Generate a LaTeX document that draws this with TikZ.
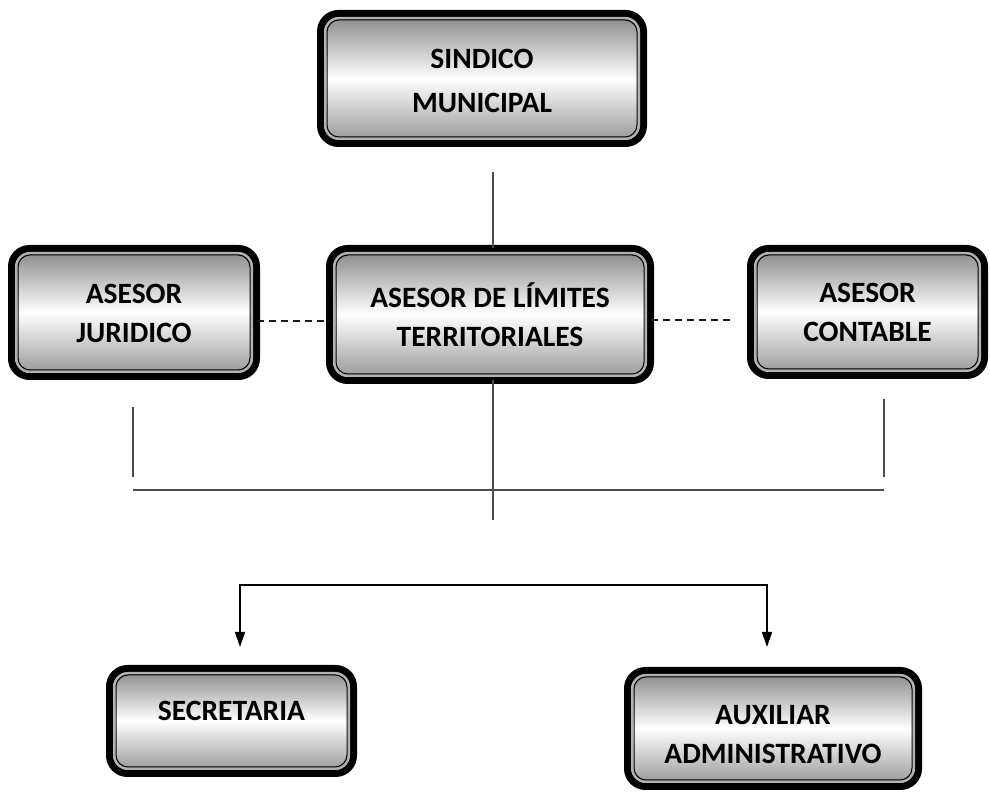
\documentclass[tikz,border=0pt]{standalone}
\usepackage{fontspec}
\setmainfont{Carlito}
\usetikzlibrary{arrows.meta,calc}
\tikzset{
  orgbox/.style={draw=black, line width=7pt, rounded corners=18pt,
    top color=black!48, bottom color=black!42, middle color=white,
    inner sep=0pt, outer sep=0pt},
  boxtext/.style={inner sep=0pt, align=center,
    font=\fontsize{29.5}{39}\selectfont\bfseries},
  framegray/.style={draw=black!30, line width=2pt, rounded corners=14pt},
  frameblack/.style={draw=black, line width=1pt, rounded corners=12pt},
  tree/.style={draw=black!70, line width=1.3pt},
  dashline/.style={draw=black!90, line width=1.6pt, dash pattern=on 7pt off 5pt},
  arr/.style={draw=black, line width=1.5pt,
    {Triangle[length=15pt,width=10pt]}-{Triangle[length=15pt,width=10pt]}},
}
\newcommand\obox[7]{%
  \node[orgbox, minimum width=#4pt, minimum height=#5pt] (#1) at (#2,#3) {};
  \draw[framegray] ($(#1.north west)+(4.5,-4.5)$) rectangle ($(#1.south east)+(-4.5,4.5)$);
  \draw[frameblack] ($(#1.north west)+(6.5,-6.5)$) rectangle ($(#1.south east)+(-6.5,6.5)$);
  \node[boxtext] (#1-t) at ($(#1.center)+(0,#7)$) {#6};
}
\begin{document}
\begin{tikzpicture}[x=1pt,y=1pt]
  \useasboundingbox (0,0) rectangle (990,792);
  \obox{sind}{482}{713.5}{323}{130}{SINDICO\\[5pt]MUNICIPAL}{-2}
  \obox{jur}{134}{479.5}{245}{128}{ASESOR\\JURIDICO}{-1}
  \obox{lim}{490}{477.5}{321}{132}{ASESOR DE LÍMITES\\TERRITORIALES}{0}
  \obox{cont}{867.5}{480}{234}{127}{ASESOR\\CONTABLE}{0}
  \obox{sec}{231.5}{71}{244}{105}{SECRETARIA}{10}
  \obox{aux}{773}{63.5}{291}{116}{AUXILIAR\\ADMINISTRATIVO}{-6}

  \coordinate (s1) at (493,620);
  \coordinate (c1) at (493,272);
  \coordinate (dl) at (293,471);
  \coordinate (dr) at (733,472);
  \coordinate (lv1) at (133,385);
  \coordinate (lv2) at (133,315);
  \coordinate (rv1) at (884,393);
  \coordinate (rv2) at (884,315);
  \coordinate (h1) at (133,302);
  \coordinate (h2) at (884,302);
  \coordinate (b1) at (240,207);
  \coordinate (b2) at (767,207);
  \coordinate (a1) at (240,145);
  \coordinate (a2) at (767,145);

  \draw[tree] (s1) -- (s1 |- lim.north);
  \draw[tree] (c1 |- lim.south) -- (c1);
  \draw[tree] (lv1) -- (lv2);
  \draw[tree] (rv1) -- (rv2);
  \draw[tree] (h1) -- (h2);
  \draw[dashline] (jur.east |- dl) -- (lim.west |- dl);
  \draw[dashline] (lim.east |- dr) -- (dr);
  \draw[arr] (a1) -- (b1) -- (b2) -- (a2);
\end{tikzpicture}
\end{document}
